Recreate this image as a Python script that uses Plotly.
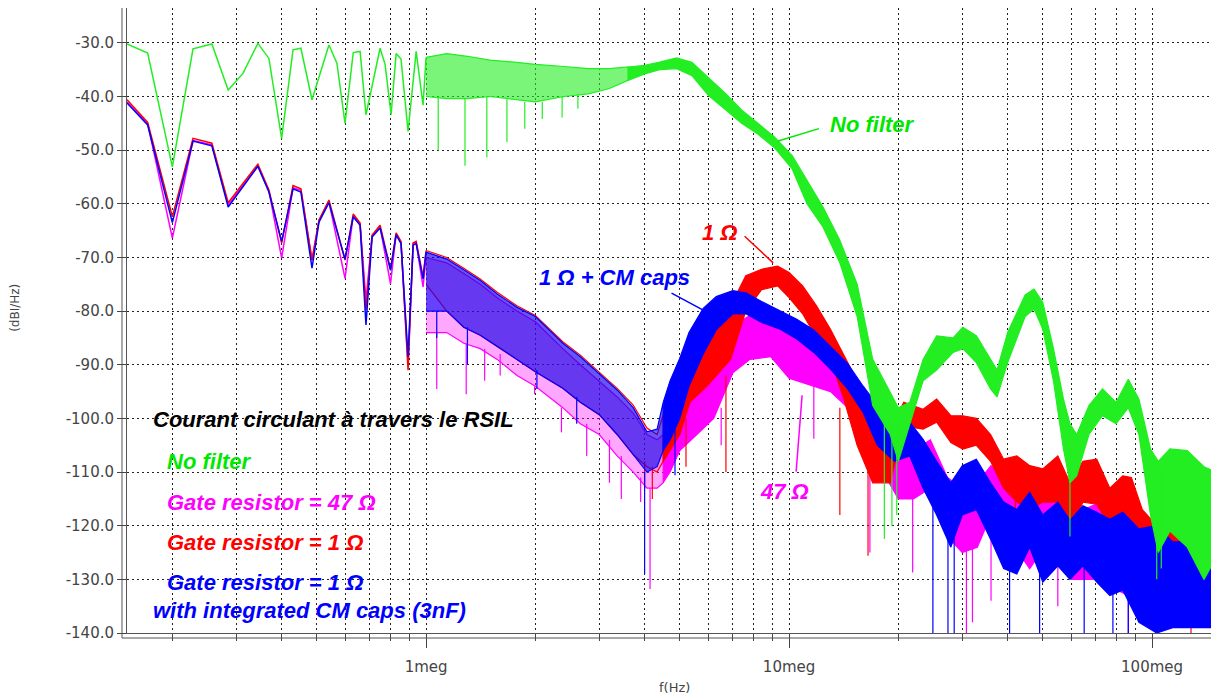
import math
import plotly.graph_objects as go

# ---------------- data ----------------
# low frequency part : individual harmonics (Hz, dB)
green_lf_f = [150e3, 171e3, 200e3, 228e3, 257e3, 285e3, 313e3, 344e3, 369e3, 400e3,
              430e3, 452e3, 485e3, 540e3, 568e3, 598e3, 630e3, 658e3, 683e3, 747e3,
              771e3, 801e3, 827e3, 853e3, 892e3, 939e3, 981e3, 1.0e6]
green_lf = [-30.2, -31.9, -53.1, -31.1, -30.2, -38.8, -35.7, -30.1, -32.9, -47.8,
            -31.3, -31.0, -40.6, -30.4, -33.8, -45.0, -31.8, -31.6, -43.4, -31.0,
            -34.0, -43.4, -32.0, -33.0, -46.5, -31.6, -41.6, -32.7]

low_lf_f = [150e3, 171e3, 200e3, 228e3, 257e3, 285e3, 344e3, 369e3, 400e3, 430e3,
            452e3, 485e3, 507e3, 540e3, 598e3, 630e3, 658e3, 683e3, 710e3, 747e3,
            798e3, 827e3, 853e3, 892e3, 921e3, 939e3, 981e3, 1.0e6]
red_lf = [-40.6, -44.8, -62.4, -47.8, -48.7, -59.8, -52.6, -57.4, -67.3, -56.6,
          -57.2, -70.5, -63.0, -59.3, -70.5, -61.9, -63.6, -79.8, -65.8, -64.0,
          -72.2, -65.4, -67.0, -91.0, -67.3, -67.0, -73.6, -68.7]
blue_lf = [-41.2, -45.3, -63.5, -48.3, -49.2, -60.6, -53.0, -57.8, -67.0, -57.2,
           -57.8, -72.0, -63.4, -59.8, -70.3, -62.4, -64.0, -82.6, -66.2, -64.5,
           -72.4, -65.8, -67.4, -88.5, -67.7, -67.4, -74.0, -69.0]
mag_lf = [-41.0, -45.0, -66.4, -48.2, -49.0, -60.2, -53.0, -57.6, -70.1, -57.0,
          -57.5, -70.5, -63.2, -59.6, -73.9, -62.2, -63.8, -78.0, -66.0, -64.3,
          -74.9, -65.6, -67.2, -90.0, -67.5, -67.2, -75.5, -70.0]

# dense part : upper / lower envelope of the spectrum (Hz, dB)
green_bf = [1.0e6, 1.14e6, 1.3e6, 1.5e6, 1.75e6, 2.0e6, 2.4e6, 2.8e6, 3.2e6, 3.6e6,
            4.0e6, 4.4e6, 4.9e6, 5.4e6, 6.0e6, 6.7e6, 7.4e6, 8.2e6, 9.1e6, 10.2e6,
            11.2e6, 12.4e6, 13.8e6, 15.4e6, 17e6, 19e6, 20e6, 21.5e6, 23.4e6, 25.5e6,
            28.3e6, 30.1e6, 32.8e6, 35.9e6, 37.4e6, 40e6, 44.7e6, 47.3e6, 50e6, 53.5e6,
            57e6, 59.4e6, 62e6, 67e6, 73e6, 79.6e6, 86e6, 92e6, 99e6, 104e6,
            112e6, 125e6, 139e6, 150e6]
green_up = [-32.7, -32.0, -32.5, -33.2, -33.6, -34.0, -34.4, -34.8, -34.8, -34.5,
            -34.2, -33.6, -32.8, -33.6, -36.5, -39.5, -42.5, -45.0, -47.5, -51.0,
            -55.6, -60.6, -66.8, -75.0, -89.0, -95.0, -98.0, -97.0, -89.0, -84.6,
            -85.0, -83.0, -84.6, -89.0, -91.0, -84.0, -77.0, -75.9, -78.4, -87.0,
            -96.4, -101.0, -103.0, -97.6, -94.5, -97.0, -92.7, -96.4, -105.7, -108.0,
            -105.7, -106.0, -109.0, -110.0]
green_lo = [-40.0, -40.4, -40.4, -40.0, -40.5, -41.0, -40.0, -39.5, -38.5, -37.0,
            -35.8, -35.0, -34.8, -36.1, -39.8, -42.5, -45.0, -47.0, -49.5, -53.5,
            -60.0, -64.3, -71.0, -81.0, -97.6, -103.0, -108.0, -101.0, -93.0, -91.0,
            -87.7, -87.0, -89.6, -94.5, -96.0, -89.6, -81.0, -79.6, -83.4, -93.0,
            -105.7, -112.0, -110.7, -103.0, -99.5, -101.0, -98.0, -103.0, -118.0, -125.0,
            -121.0, -124.0, -130.0, -126.0]

red_bf = [1.0e6, 1.14e6, 1.27e6, 1.41e6, 1.57e6, 1.78e6, 2.0e6, 2.38e6, 2.66e6, 3.0e6,
          3.36e6, 3.72e6, 4.06e6, 4.33e6, 4.5e6, 4.7e6, 5.0e6, 5.33e6, 5.93e6, 6.9e6,
          7.6e6, 8.4e6, 9.3e6, 10e6, 10.9e6, 11.9e6, 13e6, 14.1e6, 15.4e6, 17e6,
          19e6, 20.7e6, 23.4e6, 25.5e6, 27.9e6, 30.1e6, 32.8e6, 35.9e6, 39e6, 42.4e6,
          46e6, 50e6, 55e6, 59.4e6, 64.5e6, 70.4e6, 76.5e6, 83e6, 87.7e6, 94e6,
          103e6, 114e6, 127e6, 143e6, 150e6]
red_up = [-68.7, -70.0, -72.0, -74.0, -76.5, -79.0, -80.8, -85.7, -88.2, -91.3,
          -94.4, -97.5, -101.8, -103.0, -99.3, -94.4, -91.0, -88.8, -83.3, -79.0,
          -73.4, -72.2, -71.6, -72.8, -75.3, -79.0, -83.4, -88.0, -93.0, -100.0,
          -102.0, -97.0, -98.3, -96.4, -99.5, -99.5, -100.0, -103.0, -107.6, -107.0,
          -108.8, -109.4, -107.0, -112.0, -108.0, -107.6, -113.0, -110.7, -111.0, -117.0,
          -120.0, -120.0, -118.0, -120.0, -121.0]
red_lo = [-75.0, -80.0, -83.0, -84.5, -86.5, -89.0, -91.3, -94.4, -97.0, -99.3,
          -103.0, -106.7, -109.0, -110.0, -108.0, -106.0, -103.0, -97.0, -94.0, -89.0,
          -80.0, -76.0, -75.3, -77.5, -80.5, -85.0, -89.0, -96.0, -105.0, -112.0,
          -112.0, -101.4, -102.0, -100.7, -104.5, -105.7, -105.0, -108.0, -113.0, -115.6,
          -117.0, -115.6, -115.6, -121.0, -115.6, -116.0, -120.0, -117.5, -120.0, -124.0,
          -130.5, -127.5, -128.0, -130.0, -131.0]

blue_bf = [1.0e6, 1.14e6, 1.27e6, 1.41e6, 1.57e6, 1.78e6, 2.0e6, 2.38e6, 2.66e6, 3.0e6,
           3.36e6, 3.72e6, 4.06e6, 4.33e6, 4.5e6, 4.7e6, 5.0e6, 5.3e6, 5.8e6, 6.3e6,
           7.0e6, 7.6e6, 8.4e6, 9.4e6, 10.5e6, 11.7e6, 13e6, 14.5e6, 16e6, 17.5e6,
           19.5e6, 21.5e6, 23.4e6, 25.5e6, 27.9e6, 30e6, 32.8e6, 35.9e6, 39e6, 42.4e6,
           46e6, 50e6, 55e6, 59.4e6, 64.5e6, 70.4e6, 76.5e6, 83e6, 92e6, 103e6,
           114e6, 127e6, 150e6]
blue_up = [-69.0, -70.3, -72.3, -74.3, -76.8, -79.3, -81.0, -86.0, -88.5, -91.6,
           -94.7, -98.0, -102.5, -102.0, -97.0, -93.0, -88.8, -84.0, -79.5, -77.3,
           -76.2, -76.6, -78.2, -79.8, -81.5, -83.5, -86.5, -89.8, -94.0, -97.5,
           -98.3, -100.7, -103.9, -108.0, -112.0, -108.8, -107.6, -112.0, -115.6, -117.0,
           -113.8, -118.0, -115.6, -119.0, -116.3, -117.5, -118.8, -117.5, -120.6, -120.0,
           -123.0, -123.0, -124.4]
blue_lo = [-80.0, -80.0, -83.0, -84.5, -86.5, -89.0, -91.3, -94.4, -97.0, -99.3,
           -103.0, -106.7, -110.0, -109.0, -106.0, -104.0, -100.0, -94.0, -88.0, -83.5,
           -80.5, -80.5, -82.1, -83.3, -85.2, -87.7, -90.8, -94.5, -98.9, -105.0,
           -108.0, -107.0, -113.0, -118.0, -124.0, -118.0, -117.0, -122.5, -128.0, -129.0,
           -124.0, -130.5, -127.5, -130.0, -127.5, -130.5, -133.0, -132.0, -138.0, -140.0,
           -139.0, -139.0, -139.0]

mag_bf = [1.0e6, 1.14e6, 1.27e6, 1.41e6, 1.57e6, 1.78e6, 2.0e6, 2.38e6, 2.66e6, 3.0e6,
          3.36e6, 3.72e6, 4.06e6, 4.33e6, 4.5e6, 4.7e6, 5.0e6, 5.57e6, 6.2e6, 7.0e6,
          7.8e6, 8.9e6, 10e6, 11.7e6, 13e6, 14.5e6, 16e6, 17.8e6, 20e6, 22e6,
          24.5e6, 27.3e6, 30e6, 33e6, 36e6, 40e6, 46e6, 53e6, 60e6, 70e6,
          80e6, 92e6, 103e6, 115e6, 130e6, 150e6]
mag_up = [-70.0, -71.0, -73.0, -75.0, -77.5, -80.0, -82.0, -87.0, -90.0, -93.0,
          -96.0, -99.0, -103.0, -104.0, -103.0, -99.0, -95.0, -91.0, -87.7, -82.8,
          -80.8, -81.0, -84.0, -87.0, -89.0, -90.0, -95.0, -101.0, -105.0, -106.0,
          -104.0, -111.0, -113.0, -112.0, -108.8, -112.0, -116.0, -112.0, -118.0, -116.0,
          -119.0, -120.0, -121.0, -124.0, -122.0, -125.0]
mag_lo = [-84.0, -84.0, -86.0, -87.0, -89.0, -92.0, -94.0, -98.0, -101.0, -103.0,
          -107.0, -110.0, -113.0, -113.0, -112.0, -110.0, -106.0, -103.0, -100.0, -91.5,
          -89.0, -88.5, -92.5, -94.0, -95.0, -98.0, -103.0, -109.0, -115.0, -115.0,
          -113.0, -122.0, -125.0, -124.0, -118.0, -122.0, -128.0, -122.0, -130.0, -130.0,
          -132.0, -134.0, -134.0, -136.0, -136.0, -138.0]

# isolated deep notches (Hz, top dB, bottom dB)
green_spk_f = [1.08e6, 1.28e6, 1.47e6, 1.67e6, 1.87e6, 2.09e6, 2.37e6, 2.62e6,
               18.3e6, 19.2e6, 19.8e6, 59.4e6, 103e6, 106e6]
green_spk_top = [-40, -40.4, -40, -40.5, -41, -41, -40, -39.5, -100, -100, -100, -105, -110, -110]
green_spk_bot = [-50, -52.9, -51.3, -48.5, -46, -44.2, -43.9, -42.3, -122.5, -120, -118, -122, -130, -128]

red_spk_f = [4.0e6, 4.2e6, 5.2e6, 6.7e6, 13.8e6, 16.5e6, 42e6, 122e6, 128e6]
red_spk_top = [-108, -109, -100, -92, -98, -108, -114, -127, -127]
red_spk_bot = [-113, -115, -109, -110, -118, -125.6, -127.5, -138, -140]

blue_spk_f = [1.07e6, 1.3e6, 2.02e6, 2.6e6, 4.0e6, 4.85e6, 24.9e6, 27.4e6, 28.5e6,
              40.5e6, 49e6, 65e6, 78e6, 86e6]
blue_spk_top = [-80, -83, -91, -96, -110, -102, -116, -122, -122, -125, -128, -127, -130, -130]
blue_spk_bot = [-85, -90, -94.5, -101, -129, -110.6, -140, -140, -140, -140, -140, -140, -140, -140]

mag_spk_f = [1.07e6, 1.29e6, 1.45e6, 1.6e6, 1.99e6, 2.36e6, 2.77e6, 3.2e6, 3.45e6, 3.9e6,
             4.14e6, 6.5e6, 11.7e6, 16.7e6, 21.9e6, 30.8e6, 32e6, 36e6, 55e6, 86e6]
mag_spk_top = [-84, -86, -87, -88, -94, -98, -101, -104, -107, -111,
               -113, -98, -94, -103, -114, -124, -124, -118, -122, -132]
mag_spk_bot = [-94.5, -95.5, -93, -92, -95.5, -102.6, -107, -112, -115, -115.6,
               -131.8, -105, -103.8, -125, -128.7, -140, -138, -134, -135, -140]

# axes
y_ticks = [-30, -40, -50, -60, -70, -80, -90, -100, -110, -120, -130, -140]
y_labels = ["-30.0", "-40.0", "-50.0", "-60.0", "-70.0", "-80.0", "-90.0",
            "-100.0", "-110.0", "-120.0", "-130.0", "-140.0"]
x_ticks = [1e6, 1e7, 1e8]
x_labels = ["1meg", "10meg", "100meg"]

GREEN = "rgb(34,238,34)"
RED = "rgb(255,0,0)"
BLUE = "rgb(0,0,255)"
MAG = "rgb(255,0,255)"
FONT = "Liberation Sans, Arial, sans-serif"

fig = go.Figure()


def add_series(color, comb_fill, lf_f, lf_db, bf, up, lo, sf, st, sb, split):
    fig.add_trace(go.Scatter(x=lf_f, y=lf_db, mode="lines",
                             line=dict(color=color, width=1.5)))
    i = next(k for k, f in enumerate(bf) if f >= split)
    for a, b, fc in ((0, i + 1, comb_fill), (i, len(bf), color)):
        f = bf[a:b]
        fig.add_trace(go.Scatter(x=f + f[::-1], y=up[a:b] + lo[a:b][::-1],
                                 mode="lines", fill="toself", fillcolor=fc,
                                 line=dict(color=color, width=1.2)))
    xs, ys = [], []
    for f, t, b in zip(sf, st, sb):
        xs += [f, f, None]
        ys += [t, b, None]
    fig.add_trace(go.Scatter(x=xs, y=ys, mode="lines", line=dict(color=color, width=1.2)))


add_series(MAG, "rgba(255,0,255,0.35)", low_lf_f, mag_lf, mag_bf, mag_up, mag_lo,
           mag_spk_f, mag_spk_top, mag_spk_bot, 4.5e6)
add_series(RED, "rgba(255,0,0,0.15)", low_lf_f, red_lf, red_bf, red_up, red_lo,
           red_spk_f, red_spk_top, red_spk_bot, 4.5e6)
add_series(BLUE, "rgba(0,0,255,0.6)", low_lf_f, blue_lf, blue_bf, blue_up, blue_lo,
           blue_spk_f, blue_spk_top, blue_spk_bot, 4.5e6)
add_series(GREEN, "rgba(34,238,34,0.6)", green_lf_f, green_lf, green_bf, green_up, green_lo,
           green_spk_f, green_spk_top, green_spk_bot, 3.6e6)

grid = dict(showgrid=True, gridcolor="#222", gridwidth=1, griddash="2px,3px")

fig.update_xaxes(type="log", range=[math.log10(150e3), math.log10(150e6)],
                 tickvals=x_ticks, ticktext=x_labels, ticks="outside", ticklen=14,
                 tickcolor="#444", showline=True, linecolor="#555", linewidth=1,
                 ticklabelstandoff=6,
                 tickfont=dict(family="DejaVu Sans", size=15, color="#444"),
                 minor=dict(tickvals=[m * 10 ** e for e in (5, 6, 7) for m in range(2, 10)],
                            ticks="outside", ticklen=7, tickcolor="#444", **grid),
                 zeroline=False, **grid)
fig.update_yaxes(range=[-140, -23.5], tickvals=y_ticks, ticktext=y_labels,
                 ticks="outside", ticklen=9, tickcolor="#444", showline=True,
                 linecolor="#555", linewidth=1, zeroline=False,
                 tickfont=dict(family="DejaVu Sans", size=15, color="#444"), **grid)

# second line of the double axes, and white box behind the legend text
fig.add_shape(type="line", xref="paper", yref="paper", x0=-5 / 1089, x1=-5 / 1089,
              y0=-5 / 625, y1=1, line=dict(color="#555", width=1))
fig.add_shape(type="line", xref="paper", yref="paper", x0=-5 / 1089, x1=1,
              y0=-5 / 625, y1=-5 / 625, line=dict(color="#555", width=1))
fig.add_shape(type="rect", xref="paper", yref="paper", x0=0.001, x1=0.373, y0=0.002, y1=0.381,
              fillcolor="white", line=dict(width=0), layer="between")

legend_rows = [
    ("Courant circulant à travers le RSIL", "black", 0.022, 0.341),
    ("No filter", "rgb(0,232,0)", 0.035, 0.2736),
    ("Gate resistor = 47 Ω", MAG, 0.035, 0.2096),
    ("Gate resistor = 1 Ω", RED, 0.035, 0.1456),
    ("Gate resistor = 1 Ω", BLUE, 0.035, 0.0816),
    ("with integrated CM caps (3nF)", BLUE, 0.022, 0.0368),
]
for txt, col, px, py in legend_rows:
    fig.add_annotation(x=px, y=py, xref="paper", yref="paper", text="<b><i>%s</i></b>" % txt,
                       showarrow=False, xanchor="left", yanchor="middle",
                       font=dict(family=FONT, size=22, color=col))

# curve labels with leader lines (x in log10 Hz)
labels = [
    ("No filter", "rgb(0,232,0)", 12.8e6, -45.3, "left", (12.2e6, -45.9), (9.33e6, -48.3)),
    ("1 Ω", RED, 6.46e6, -65.3, "center", (7.47e6, -65.8), (9.04e6, -71.0)),
    ("1 Ω + CM caps", BLUE, 3.3e6, -73.7, "center", (4.7e6, -76.5), (5.8e6, -79.8)),
    ("47 Ω", MAG, 9.69e6, -113.6, "center", (10.45e6, -110.2), (10.86e6, -95.7)),
]
for txt, col, f, db, anc, tail, head in labels:
    fig.add_annotation(x=math.log10(f), y=db, text="<b><i>%s</i></b>" % txt, showarrow=False,
                       xanchor=anc, yanchor="middle", font=dict(family=FONT, size=22, color=col))
    fig.add_annotation(x=math.log10(head[0]), y=head[1], ax=math.log10(tail[0]), ay=tail[1],
                       axref="x", ayref="y", text="", showarrow=True, arrowhead=0,
                       arrowwidth=1.5, arrowcolor=col)

fig.add_annotation(x=0.503, y=-0.0865, xref="paper", yref="paper", text="f(Hz)", showarrow=False,
                   xanchor="center", yanchor="middle",
                   font=dict(family="DejaVu Sans", size=13, color="#444"))
fig.add_annotation(x=-0.103, y=0.52, xref="paper", yref="paper", text="(dBI/Hz)", showarrow=False,
                   xanchor="center", yanchor="middle", textangle=-90,
                   font=dict(family="DejaVu Sans", size=12, color="#444"))

# the page body has an 8 px margin: size and margins compensate for it
fig.update_layout(width=1211, height=688, showlegend=False,
                  margin=dict(l=119, r=3, t=0, b=63),
                  plot_bgcolor="white", paper_bgcolor="white")

fig.write_html("out.html")
